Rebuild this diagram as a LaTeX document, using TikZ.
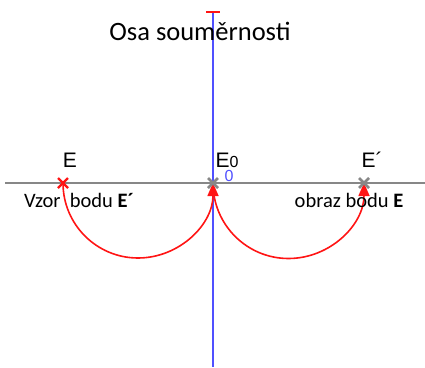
\documentclass[tikz,border=0pt]{standalone}
\usepackage{fontspec}
\setmainfont{Carlito}
\newfontfamily\ptfont{Liberation Sans}
\usetikzlibrary{arrows.meta, positioning}

\definecolor{axisblue}{RGB}{80,80,255}
\definecolor{linegray}{RGB}{135,135,135}
\definecolor{arcred}{RGB}{255,20,20}

\tikzset{
  ptlabel/.style={font=\ptfont\fontsize{21}{21}\selectfont, inner sep=0pt},
  note/.style={font=\fontsize{20.5}{20.5}\selectfont, inner sep=0pt},
  redarc/.style={arcred, line width=1.6pt, -{Triangle[length=13pt,width=11pt]}},
}

\begin{document}
\begin{tikzpicture}[x=1pt, y=-1pt]
  \useasboundingbox (0,0) rectangle (425,367);

  % points on the line
  \coordinate (E)  at (63,183);
  \coordinate (E0) at (213,183);
  \coordinate (Ep) at (364,183);

  % axis of symmetry and the line
  \coordinate (axtop) at (213,12);
  \coordinate (axbot) at (213,367);
  \coordinate (lnleft) at (5,183);
  \coordinate (lnright) at (425,183);
  \draw[linegray, line width=1.8pt] (lnleft) -- (lnright);
  \draw[axisblue, line width=2pt] (axtop) -- (axbot);
  \draw[arcred, line width=1.6pt] ([xshift=-7pt]axtop) -- ([xshift=7pt]axtop);

  % title
  \node[font=\fontsize{26.5}{26.5}\selectfont, inner sep=0pt] (title) at (200,31) {Osa souměrnosti};

  % arcs
  \draw[redarc] (E) arc[start angle=180, end angle=0, radius=75];
  \draw[redarc] (E0) arc[start angle=180, end angle=0, radius=75.5];

  % crosses
  \draw[arcred, line width=2.2pt] ([shift={(-5,-5)}]E) -- ([shift={(5,5)}]E)
    ([shift={(-5,5)}]E) -- ([shift={(5,-5)}]E);
  \foreach \p in {E0,Ep}{
    \draw[linegray, line width=2.6pt] ([shift={(-5,-5)}]\p) -- ([shift={(5,5)}]\p)
      ([shift={(-5,5)}]\p) -- ([shift={(5,-5)}]\p);
  }

  % labels
  \node[ptlabel] (lE)  at (70,160) {E};
  \node[ptlabel] (lE0) at (227,160) {E{\fontsize{16}{16}\selectfont 0}};
  \node[ptlabel] (lEp) at (372,160) {E´};
  \node[font=\ptfont\fontsize{16}{16}\selectfont, text=axisblue, inner sep=0pt] (orig) at (229,176) {0};
  \node[note] (vzor)  at (79,200) {Vzor\ \ bodu \textbf{E´}};
  \node[note] (obraz) at (349,200) {obraz bodu \textbf{E}};
\end{tikzpicture}
\end{document}
